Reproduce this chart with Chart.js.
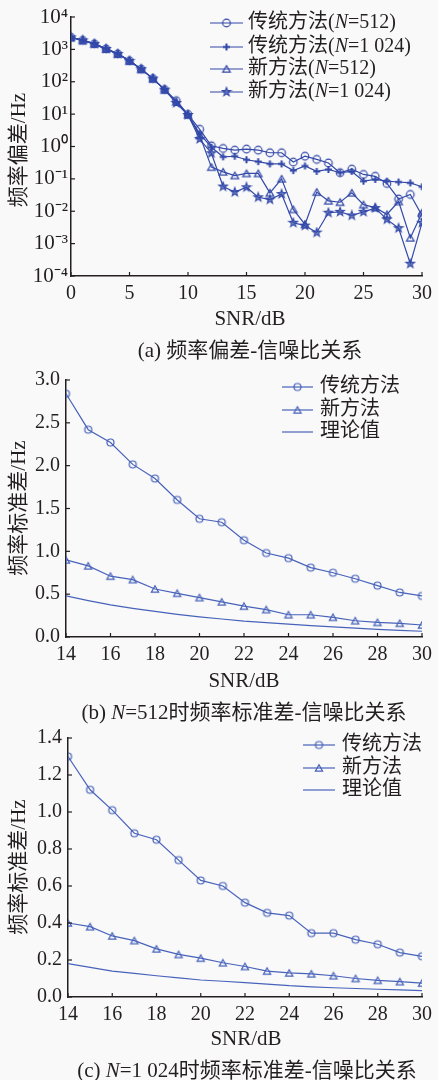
<!DOCTYPE html>
<html>
<head>
<meta charset="utf-8">
<script src="https://cdn.jsdelivr.net/npm/chart.js@4/dist/chart.umd.min.js"></script>
<style>
  body { margin: 0; width: 438px; height: 1080px; position: relative; overflow: hidden;
         background: #f9f9f9; color: #231f20;
         font-family: "Liberation Serif", "Noto Sans CJK SC", serif; }
  canvas { position: absolute; left: 0; }
  .t { position: absolute; white-space: nowrap; transform: translate(-50%, -50%); font-size: 21px; line-height: 1; }
  .yt { transform: translate(-50%, -50%) rotate(-90deg); }
</style>
</head>
<body>
<canvas id="chartA" width="438" height="310" style="top:0px"></canvas>
<canvas id="chartB" width="438" height="310" style="top:362px"></canvas>
<canvas id="chartC" width="438" height="315" style="top:720px"></canvas>

<div class="t yt" style="left:18px;top:150px">频率偏差/Hz</div>
<div class="t" style="left:250px;top:318px">SNR/dB</div>
<div class="t" style="left:250px;top:350px">(a) 频率偏差-信噪比关系</div>

<div class="t yt" style="left:18px;top:508px">频率标准差/Hz</div>
<div class="t" style="left:244px;top:680px">SNR/dB</div>
<div class="t" style="left:244px;top:712px">(b) <i>N</i>=512时频率标准差-信噪比关系</div>

<div class="t yt" style="left:18px;top:867px">频率标准差/Hz</div>
<div class="t" style="left:246px;top:1038px">SNR/dB</div>
<div class="t" style="left:247px;top:1070px">(c) <i>N</i>=1 024时频率标准差-信噪比关系</div>

<script>
// ---- data ----
const snrA = [0, 1, 2, 3, 4, 5, 6, 7, 8, 9, 10, 11, 12, 13, 14, 15, 16, 17, 18, 19, 20, 21, 22, 23, 24, 25, 26, 27, 28, 29, 30];
const tradA512 = [2350, 1900, 1480, 1035, 725, 442, 245, 125, 57, 26, 9.8,
  3.4, 1.05, 0.87, 0.77, 0.83, 0.77, 0.64, 0.64, 0.33, 0.5, 0.4, 0.31, 0.155, 0.2, 0.137, 0.12, 0.072, 0.024, 0.033, 0.0074];
const tradA1024 = [2350, 1900, 1480, 1035, 725, 442, 245, 125, 57, 23, 9.5,
  2.5, 0.95, 0.48, 0.5, 0.39, 0.34, 0.29, 0.29, 0.18, 0.25, 0.17, 0.195, 0.155, 0.17, 0.085, 0.096, 0.085, 0.08, 0.075, 0.057];
const newA512 = [2350, 1900, 1480, 1035, 725, 442, 245, 125, 57, 24, 9.6,
  2.2, 0.23, 0.165, 0.127, 0.147, 0.147, 0.037, 0.1, 0.0114, 0.0039, 0.039, 0.021, 0.019, 0.037, 0.016, 0.013, 0.008, 0.02, 0.0015, 0.009];
const newA1024 = [2350, 1900, 1480, 1035, 725, 442, 245, 125, 57, 22, 9.4,
  1.7, 0.62, 0.058, 0.039, 0.055, 0.027, 0.023, 0.034, 0.0044, 0.0036, 0.0022, 0.009, 0.0096, 0.0074, 0.0096, 0.0125, 0.0056, 0.003, 0.00024, 0.0044];
const xTicksA = [0, 5, 10, 15, 20, 25, 30];
const yExpA = [-4, -3, -2, -1, 0, 1, 2, 3, 4];

const snrBC = [14, 15, 16, 17, 18, 19, 20, 21, 22, 23, 24, 25, 26, 27, 28, 29, 30];
const tradB = [2.84, 2.42, 2.27, 2.015, 1.85, 1.6, 1.38, 1.34, 1.13, 0.98, 0.92, 0.81, 0.75, 0.68, 0.6, 0.52, 0.48];
const newB = [0.9, 0.83, 0.71, 0.67, 0.56, 0.51, 0.46, 0.41, 0.36, 0.32, 0.26, 0.26, 0.23, 0.19, 0.17, 0.16, 0.14];
const theoryB = [0.48, 0.425, 0.375, 0.335, 0.3, 0.265, 0.235, 0.21, 0.185, 0.168, 0.15, 0.133, 0.118, 0.104, 0.09, 0.078, 0.067];
const tradC = [1.3, 1.12, 1.01, 0.885, 0.85, 0.74, 0.63, 0.6, 0.51, 0.455, 0.44, 0.345, 0.345, 0.31, 0.285, 0.24, 0.22];
const newC = [0.4, 0.38, 0.33, 0.305, 0.26, 0.23, 0.21, 0.185, 0.165, 0.14, 0.13, 0.125, 0.115, 0.1, 0.09, 0.083, 0.075];
const theoryC = [0.18, 0.16, 0.14, 0.128, 0.115, 0.103, 0.092, 0.085, 0.078, 0.07, 0.061, 0.055, 0.05, 0.046, 0.042, 0.038, 0.034];
const xTicksBC = [14, 16, 18, 20, 22, 24, 26, 28, 30];
const yTicksB = [0, 0.5, 1, 1.5, 2, 2.5, 3];
const yTicksC = [0, 0.2, 0.4, 0.6, 0.8, 1, 1.2, 1.4];

const labelsA = ["传统方法(N=512)", "传统方法(N=1 024)", "新方法(N=512)", "新方法(N=1 024)"];
const labelsBC = ["传统方法", "新方法", "理论值"];

const INK = "#231f20";
const FONT = '"Liberation Serif", "Noto Sans CJK SC", serif';
const BLUE_A = "#3349a9";
const BLUE_B = "#4762ba";

// ---- markers drawn on small canvases, used as pointStyle ----
function marker(kind, r, color) {
  const s = Math.ceil(r * 2 + 4);
  const c = document.createElement("canvas");
  c.width = c.height = s;
  const g = c.getContext("2d");
  const m = s / 2;
  g.strokeStyle = color;
  g.fillStyle = color;
  g.lineWidth = 1.2;
  g.beginPath();
  if (kind === "circle") {
    g.arc(m, m, r, 0, Math.PI * 2);
    g.stroke();
  } else if (kind === "triangle") {
    for (let i = 0; i < 3; i++) {
      const a = -Math.PI / 2 + i * 2 * Math.PI / 3;
      g.lineTo(m + r * 1.1 * Math.cos(a), m + 1 + r * 1.1 * Math.sin(a));
    }
    g.closePath();
    g.stroke();
  } else if (kind === "plus") {
    g.lineWidth = 2;
    g.moveTo(m - r, m); g.lineTo(m + r, m);
    g.moveTo(m, m - r); g.lineTo(m, m + r);
    g.stroke();
  } else if (kind === "star") {
    for (let i = 0; i < 10; i++) {
      const rad = i % 2 ? r * 0.45 : r * 1.1;
      const a = -Math.PI / 2 + i * Math.PI / 5;
      g.lineTo(m + rad * Math.cos(a), m + rad * Math.sin(a));
    }
    g.closePath();
    g.globalAlpha = 0.55;
    g.fill();
    g.globalAlpha = 1;
    g.stroke();
  }
  return c;
}

// inward tick marks on both axes
const insideTicks = {
  id: "insideTicks",
  afterDraw(chart) {
    const { ctx, chartArea: a, scales: { x, y } } = chart;
    ctx.save();
    ctx.strokeStyle = INK;
    ctx.lineWidth = 1.2;
    x.ticks.forEach(t => {
      const px = x.getPixelForValue(t.value);
      ctx.beginPath(); ctx.moveTo(px, a.bottom); ctx.lineTo(px, a.bottom - 4); ctx.stroke();
    });
    y.ticks.forEach(t => {
      const py = y.getPixelForValue(t.value);
      ctx.beginPath(); ctx.moveTo(a.left, py); ctx.lineTo(a.left + 4, py); ctx.stroke();
    });
    ctx.restore();
  }
};

// legend: short line with marker in the middle, label with italic N
const lineLegend = {
  id: "lineLegend",
  afterDraw(chart, args, opts) {
    const ctx = chart.ctx;
    ctx.save();
    chart.data.datasets.forEach((ds, i) => {
      const y = opts.rows[i];
      ctx.strokeStyle = ds.borderColor;
      ctx.lineWidth = 1.2;
      ctx.beginPath(); ctx.moveTo(opts.x0, y); ctx.lineTo(opts.x1, y); ctx.stroke();
      if (ds.marker) {
        const mk = ds.marker;
        ctx.drawImage(mk, (opts.x0 + opts.x1) / 2 - mk.width / 2, y - mk.height / 2);
      }
      ctx.fillStyle = INK;
      ctx.textBaseline = "middle";
      const parts = ds.label.split("N");
      let tx = opts.tx;
      ctx.font = opts.size + "px " + FONT;
      ctx.fillText(parts[0], tx, y);
      tx += ctx.measureText(parts[0]).width;
      if (parts.length > 1) {
        ctx.font = "italic " + opts.size + "px " + FONT;
        ctx.fillText("N", tx, y);
        tx += ctx.measureText("N").width;
        ctx.font = opts.size + "px " + FONT;
        ctx.fillText(parts[1], tx, y);
      }
    });
    ctx.restore();
  }
};

const SUP = { "-": "⁻", "0": "⁰", "1": "¹", "2": "²", "3": "³", "4": "⁴" };

function series(xs, ys, label, color, mk) {
  return {
    label,
    data: xs.map((x, i) => ({ x, y: ys[i] })),
    borderColor: color,
    borderWidth: 1.2,
    pointStyle: mk || false,
    pointRadius: mk ? 4 : 0,
    marker: mk,
    fill: false,
    tension: 0
  };
}

function makeChart(id, o) {
  new Chart(document.getElementById(id), {
    type: "line",
    data: { datasets: o.datasets },
    plugins: [insideTicks, lineLegend],
    options: {
      responsive: false,
      animation: false,
      events: [],
      layout: { padding: { top: o.padTop, right: o.padRight, left: 0, bottom: 0 } },
      plugins: { legend: { display: false }, tooltip: { enabled: false }, lineLegend: o.legend },
      scales: {
        x: {
          type: "linear",
          min: o.xMin,
          max: o.xMax,
          afterBuildTicks: s => { s.ticks = o.xTicks.map(v => ({ value: v })); },
          afterFit: s => { s.height = o.xH; },
          grid: { display: false, drawTicks: false },
          border: { color: INK, width: 1.5 },
          ticks: { padding: o.xPad, color: INK, maxRotation: 0, autoSkip: false, font: { family: FONT, size: 20 } }
        },
        y: {
          type: o.yType,
          min: o.yMin,
          max: o.yMax,
          afterBuildTicks: s => { s.ticks = o.yTicks.map(v => ({ value: v })); },
          afterFit: s => { s.width = o.yW; },
          grid: { display: false, drawTicks: false },
          border: { color: INK, width: 1.5 },
          ticks: { padding: o.yPad, color: INK, autoSkip: false, font: { family: FONT, size: o.yFont }, callback: o.yFmt }
        }
      }
    }
  });
}

// (a) frequency deviation vs SNR, log axis
makeChart("chartA", {
  datasets: [
    series(snrA, tradA512, labelsA[0], BLUE_A, marker("circle", 3.8, BLUE_A)),
    series(snrA, tradA1024, labelsA[1], BLUE_A, marker("plus", 3.5, BLUE_A)),
    series(snrA, newA512, labelsA[2], BLUE_A, marker("triangle", 4, BLUE_A)),
    series(snrA, newA1024, labelsA[3], BLUE_A, marker("star", 4, BLUE_A))
  ],
  padTop: 17, padRight: 10, xH: 34, yW: 71, xPad: 6, yPad: 3, yFont: 21,
  xMin: 0, xMax: 30, xTicks: xTicksA,
  yType: "logarithmic", yMin: 1e-4, yMax: 1e4,
  yTicks: yExpA.map(e => Math.pow(10, e)),
  yFmt: v => "10" + String(Math.round(Math.log10(v))).split("").map(c => SUP[c]).join(""),
  legend: { x0: 210, x1: 243, tx: 248, rows: [23, 47, 69, 92], size: 20 }
});

// (b) N=512 standard deviation
makeChart("chartB", {
  datasets: [
    series(snrBC, tradB, labelsBC[0], BLUE_B, marker("circle", 3.5, BLUE_B)),
    series(snrBC, newB, labelsBC[1], BLUE_B, marker("triangle", 3.8, BLUE_B)),
    series(snrBC, theoryB, labelsBC[2], BLUE_B, null)
  ],
  padTop: 18, padRight: 15, xH: 35, yW: 66, xPad: 6, yPad: 6, yFont: 20,
  xMin: 14, xMax: 30, xTicks: xTicksBC,
  yType: "linear", yMin: 0, yMax: 3, yTicks: yTicksB,
  yFmt: v => v.toFixed(1),
  legend: { x0: 282, x1: 313, tx: 320, rows: [25, 48, 70], size: 20 }
});

// (c) N=1 024 standard deviation
makeChart("chartC", {
  datasets: [
    series(snrBC, tradC, labelsBC[0], BLUE_B, marker("circle", 3.5, BLUE_B)),
    series(snrBC, newC, labelsBC[1], BLUE_B, marker("triangle", 3.8, BLUE_B)),
    series(snrBC, theoryC, labelsBC[2], BLUE_B, null)
  ],
  padTop: 18, padRight: 15, xH: 38, yW: 68, xPad: 6, yPad: 6, yFont: 20,
  xMin: 14, xMax: 30, xTicks: xTicksBC,
  yType: "linear", yMin: 0, yMax: 1.4, yTicks: yTicksC,
  yFmt: v => v.toFixed(1),
  legend: { x0: 303, x1: 335, tx: 342, rows: [25, 48, 70], size: 20 }
});
</script>
</body>
</html>
